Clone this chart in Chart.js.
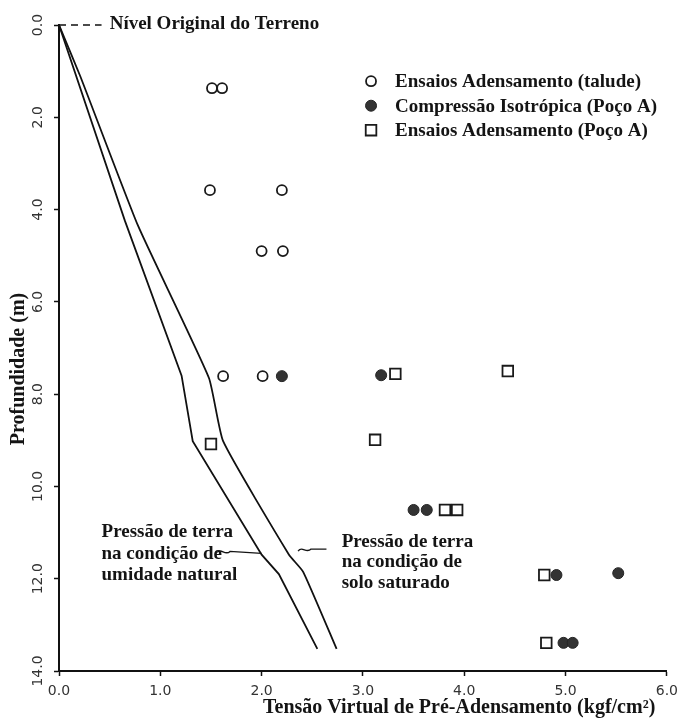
<!DOCTYPE html>
<html><head><meta charset="utf-8">
<style>html,body{margin:0;padding:0;background:#fff}#wrap{width:685px;height:720px}</style>
<script src="https://cdn.jsdelivr.net/npm/chart.js@4.4.1/dist/chart.umd.min.js"></script>
</head><body><div id="wrap"><canvas id="c" width="685" height="720"></canvas></div>
<script>
// ---- data ----
const xTickValues = [0, 1, 2, 3, 4, 5, 6];
const yTickValues = [0, 2, 4, 6, 8, 10, 12, 14];

const taludeX = [1.51, 1.61, 1.49, 2.20, 2.00, 2.21, 1.62, 2.01];
const taludeY = [1.37, 1.37, 3.58, 3.58, 4.90, 4.90, 7.61, 7.61];

const isoX = [2.20, 3.18, 3.50, 3.63, 4.91, 5.52, 4.98, 5.07];
const isoY = [7.61, 7.59, 10.51, 10.51, 11.92, 11.88, 13.39, 13.39];

const pocoX = [3.32, 4.43, 1.50, 3.12, 3.81, 3.93, 4.79, 4.81];
const pocoY = [7.56, 7.50, 9.08, 8.99, 10.51, 10.51, 11.92, 13.39];

const naturalX = [0, 0.65, 1.21, 1.32, 2.00, 2.17, 2.55];
const naturalY = [0, 4.24, 7.60, 9.02, 11.48, 11.90, 13.52];

const saturadoX = [0, 0.21, 0.78, 1.48, 1.62, 2.27, 2.41, 2.74];
const saturadoY = [0, 1.11, 4.35, 7.65, 9.02, 11.48, 11.85, 13.52];

const nivelX = [0, 0.42];
const nivelY = [0, 0];

const seriesLabels = ['Ensaios Adensamento (talude)', 'Compressão Isotrópica (Poço A)', 'Ensaios Adensamento (Poço A)'];
const xTitle = 'Tensão Virtual de Pré-Adensamento (kgf/cm²)';
const yTitle = 'Profundidade (m)';
const nivelLabel = 'Nível Original do Terreno';
const noteNatural = ['Pressão de terra', 'na condição de', 'umidade natural'];
const noteSaturado = ['Pressão de terra', 'na condição de', 'solo saturado'];

const pts = (xs, ys) => xs.map((v, i) => ({x: v, y: ys[i]}));

const INK = '#141414';
const SERIF = 'bold 19px "Liberation Serif", "Times New Roman", serif';
const SERIF_T = 'bold 20px "Liberation Serif", "Times New Roman", serif';
const TICKFONT = {family: '"DejaVu Sans", sans-serif', size: 14};

const overlay = {
  id: 'overlay',
  afterDraw(chart) {
    const {ctx, scales: {x, y}} = chart;
    ctx.save();
    // rotated y tick labels
    ctx.font = '14px "DejaVu Sans"';
    ctx.fillStyle = '#333';
    ctx.textAlign = 'center';
    ctx.textBaseline = 'middle';
    y.ticks.forEach(t => {
      const py = y.getPixelForValue(t.value);
      ctx.save();
      ctx.translate(x.left - 21, py);
      ctx.rotate(-Math.PI / 2);
      ctx.fillText(Number(t.value).toFixed(1), 0, 0);
      ctx.restore();
    });

    ctx.fillStyle = INK;
    ctx.font = SERIF_T;
    // y title
    ctx.save();
    ctx.translate(x.left - 40, (y.top + y.bottom) / 2 + 21);
    ctx.rotate(-Math.PI / 2);
    ctx.fillText(yTitle, 0, 0);
    ctx.restore();
    // x title
    ctx.fillText(xTitle, x.getPixelForValue(3.95), x.bottom - 12);

    ctx.font = SERIF;
    // level label
    ctx.textAlign = 'left';
    ctx.fillText(nivelLabel, x.getPixelForValue(0.5), y.getPixelForValue(0) - 1);

    // legend
    const lx = x.getPixelForValue(3.08);
    let ly = y.getPixelForValue(1.24);
    [0, 1, 2].forEach(i => {
      const ds = chart.data.datasets[i];
      ctx.save();
      ctx.lineWidth = ds.borderWidth;
      ctx.strokeStyle = ds.borderColor;
      ctx.fillStyle = ds.backgroundColor;
      Chart.helpers.drawPoint(ctx, {pointStyle: ds.pointStyle, radius: ds.pointRadius, rotation: 0, borderWidth: ds.borderWidth}, lx, ly - 1);
      ctx.restore();
      ctx.fillStyle = INK;
      ctx.font = SERIF;
      ctx.fillText(ds.label, lx + 24, ly);
      ly += 24.5;
    });

    // annotations
    const ax1 = x.getPixelForValue(0.42);
    let ay = y.getPixelForValue(10.99);
    noteNatural.forEach(s => { ctx.fillText(s, ax1, ay); ay += 21.5; });
    const ax2 = x.getPixelForValue(2.79);
    ay = y.getPixelForValue(11.2);
    noteSaturado.forEach(s => { ctx.fillText(s, ax2, ay); ay += 20.5; });

    // squiggle arrows
    ctx.strokeStyle = INK;
    ctx.lineWidth = 1.4;
    let sx = x.getPixelForValue(1.56), sy = y.getPixelForValue(11.43);
    ctx.beginPath();
    ctx.moveTo(sx, sy);
    ctx.bezierCurveTo(sx + 4, sy - 5, sx + 8, sy + 4, sx + 13, sy - 1);
    ctx.lineTo(x.getPixelForValue(2.0), sy + 1);
    ctx.stroke();
    sx = x.getPixelForValue(2.36); sy = y.getPixelForValue(11.38);
    ctx.beginPath();
    ctx.moveTo(sx, sy + 1);
    ctx.bezierCurveTo(sx + 4, sy - 5, sx + 8, sy + 4, sx + 13, sy - 1);
    ctx.lineTo(x.getPixelForValue(2.64), sy - 1);
    ctx.stroke();
    ctx.restore();
  }
};

new Chart(document.getElementById('c'), {
  type: 'scatter',
  data: {
    datasets: [
      {label: seriesLabels[0], data: pts(taludeX, taludeY), pointStyle: 'circle', pointRadius: 5, pointHoverRadius: 5,
       backgroundColor: '#ffffff', borderColor: '#1a1a1a', borderWidth: 1.8},
      {label: seriesLabels[1], data: pts(isoX, isoY), pointStyle: 'circle', pointRadius: 5.5, pointHoverRadius: 5.5,
       backgroundColor: '#333333', borderColor: '#262626', borderWidth: 1},
      {label: seriesLabels[2], data: pts(pocoX, pocoY), pointStyle: 'rect', pointRadius: 7.5, pointHoverRadius: 7.5,
       backgroundColor: '#ffffff', borderColor: '#1a1a1a', borderWidth: 1.8},
      {label: 'umidade natural', data: pts(naturalX, naturalY), showLine: true, pointRadius: 0, borderColor: '#111', borderWidth: 1.8, tension: 0, fill: false},
      {label: 'solo saturado', data: pts(saturadoX, saturadoY), showLine: true, pointRadius: 0, borderColor: '#111', borderWidth: 1.8, tension: 0.15, fill: false},
      {label: 'nível', data: pts(nivelX, nivelY), showLine: true, pointRadius: 0, borderColor: '#111', borderWidth: 1.6, borderDash: [7, 5], clip: false}
    ]
  },
  options: {
    responsive: false,
    animation: false,
    devicePixelRatio: 1,
    layout: {padding: {top: 25, right: 12, left: 0, bottom: 0}},
    plugins: {legend: {display: false}, tooltip: {enabled: false}},
    scales: {
      x: {
        type: 'linear', position: 'bottom', min: 0, max: 6,
        afterBuildTicks: s => { s.ticks = xTickValues.map(v => ({value: v})); },
        ticks: {callback: v => Number(v).toFixed(1), font: TICKFONT, color: '#333', padding: 7, maxRotation: 0},
        grid: {drawOnChartArea: false, drawTicks: true, tickLength: 5, tickColor: '#111', tickWidth: 1.5},
        border: {display: true, color: '#111', width: 2},
        afterFit: s => { s.height = 49; }
      },
      y: {
        type: 'linear', position: 'left', min: 0, max: 14, reverse: true,
        afterBuildTicks: s => { s.ticks = yTickValues.map(v => ({value: v})); },
        ticks: {callback: v => Number(v).toFixed(1), font: TICKFONT, color: 'rgba(0,0,0,0)'},
        grid: {drawOnChartArea: false, drawTicks: true, tickLength: 5, tickColor: '#111', tickWidth: 1.5},
        border: {display: true, color: '#111', width: 2},
        afterFit: s => { s.width = 59; }
      }
    }
  },
  plugins: [overlay]
});
</script>
</body></html>
